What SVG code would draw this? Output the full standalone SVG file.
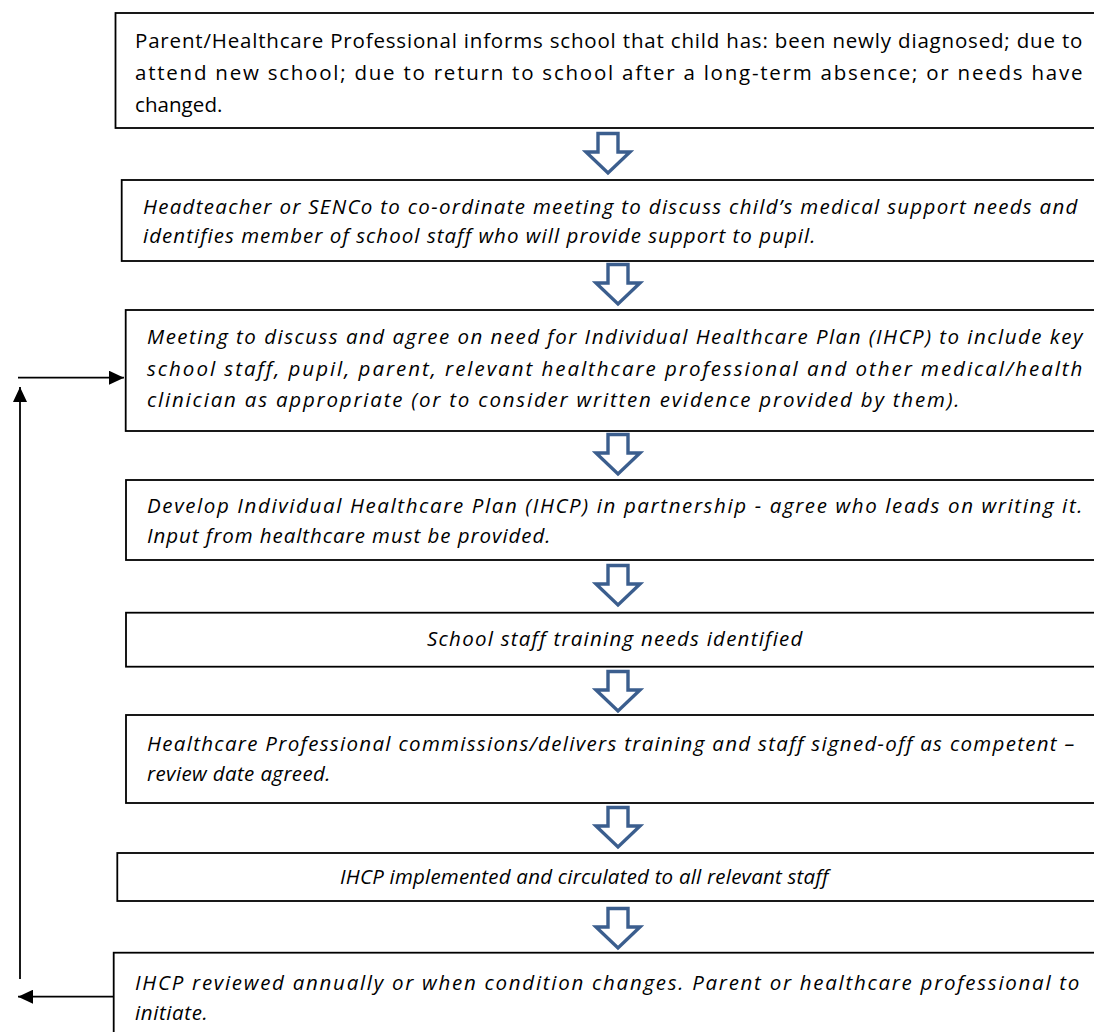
<svg xmlns="http://www.w3.org/2000/svg" width="1094" height="1032" viewBox="0 0 1094 1032">
<style>
.box{fill:#ffffff;stroke:#000000;stroke-width:1.8}
.t{font-family:"Open Sans","Liberation Sans",sans-serif;font-size:20.5px;fill:#000000;letter-spacing:0.6px}
.i{font-style:italic}
.m{text-anchor:middle}
.blk{fill:#ffffff;stroke:#3b5e8e;stroke-width:3.4;stroke-linejoin:miter}
.con{fill:none;stroke:#000000;stroke-width:1.8}
</style>
<defs>
<marker id="ah" viewBox="0 0 15 14" refX="15" refY="7" markerWidth="15" markerHeight="14" markerUnits="userSpaceOnUse" orient="auto">
<path d="M0,0 L15,7 L0,14 Z" fill="#000000"/>
</marker>
<path id="barrow" d="M-10,1.5 H10 V20 H22 L0,41 L-22,20 H-10 Z"/>
</defs>
<rect width="1094" height="1032" fill="#ffffff"/>

<g id="n1">
<rect class="box" x="115.5" y="13" width="990" height="115"/>
<text class="t" x="135" y="48" textLength="948" lengthAdjust="spacing">Parent/Healthcare Professional informs school that child has: been newly diagnosed; due to</text>
<text class="t" x="135" y="80" textLength="948" lengthAdjust="spacing">attend new school; due to return to school after a long-term absence; or needs have</text>
<text class="t" x="135" y="112" textLength="88" lengthAdjust="spacing">changed.</text>
</g>

<g id="n2">
<rect class="box" x="121.7" y="180" width="990" height="81"/>
<text class="t i" x="143" y="214" textLength="935" lengthAdjust="spacing">Headteacher or SENCo to co-ordinate meeting to discuss child’s medical support needs and</text>
<text class="t i" x="143" y="243" textLength="673" lengthAdjust="spacing">identifies member of school staff who will provide support to pupil.</text>
</g>

<g id="n3">
<rect class="box" x="125.7" y="310" width="990" height="121"/>
<text class="t i" x="147" y="344" textLength="936" lengthAdjust="spacing">Meeting to discuss and agree on need for Individual Healthcare Plan (IHCP) to include key</text>
<text class="t i" x="147" y="376" textLength="936" lengthAdjust="spacing">school staff, pupil, parent, relevant healthcare professional and other medical/health</text>
<text class="t i" x="147" y="407" textLength="813" lengthAdjust="spacing">clinician as appropriate (or to consider written evidence provided by them).</text>
</g>

<g id="n4">
<rect class="box" x="126" y="480" width="990" height="80"/>
<text class="t i" x="147" y="513" textLength="936" lengthAdjust="spacing">Develop Individual Healthcare Plan (IHCP) in partnership - agree who leads on writing it.</text>
<text class="t i" x="147" y="543" textLength="404" lengthAdjust="spacing">Input from healthcare must be provided.</text>
</g>

<g id="n5">
<rect class="box" x="126" y="612.7" width="990" height="54"/>
<text class="t i" x="427" y="646" textLength="376" lengthAdjust="spacing">School staff training needs identified</text>
</g>

<g id="n6">
<rect class="box" x="126" y="715" width="990" height="88"/>
<text class="t i" x="147" y="751" textLength="928" lengthAdjust="spacing">Healthcare Professional commissions/delivers training and staff signed-off as competent –</text>
<text class="t i" x="147" y="781" textLength="184" lengthAdjust="spacing">review date agreed.</text>
</g>

<g id="n7">
<rect class="box" x="117.3" y="853" width="990" height="48"/>
<text class="t i" x="340" y="884" textLength="489" lengthAdjust="spacing">IHCP implemented and circulated to all relevant staff</text>
</g>

<g id="n8">
<rect class="box" x="113.7" y="952.7" width="990" height="100"/>
<text class="t i" x="135" y="990" textLength="945" lengthAdjust="spacing">IHCP reviewed annually or when condition changes.  Parent or healthcare professional to</text>
<text class="t i" x="135" y="1020">initiate.</text>
</g>

<g id="connectors">
<use href="#barrow" class="blk" x="608" y="132"/>
<use href="#barrow" class="blk" x="618" y="263"/>
<use href="#barrow" class="blk" x="618" y="433"/>
<use href="#barrow" class="blk" x="618" y="564"/>
<use href="#barrow" class="blk" x="618" y="670"/>
<use href="#barrow" class="blk" x="618" y="806"/>
<use href="#barrow" class="blk" x="618" y="907"/>
<line class="con" x1="20" y1="979" x2="20" y2="387" marker-end="url(#ah)"/>
<line class="con" x1="18" y1="377.7" x2="124" y2="377.7" marker-end="url(#ah)"/>
<line class="con" x1="113.7" y1="996.7" x2="18" y2="996.7" marker-end="url(#ah)"/>
</g>
</svg>
